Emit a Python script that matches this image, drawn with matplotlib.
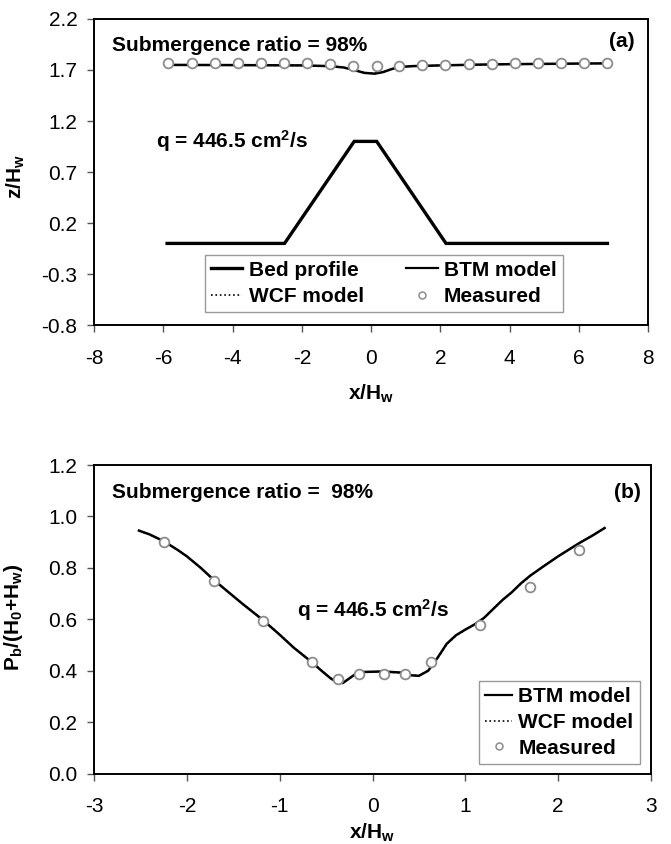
import numpy as np
import matplotlib
matplotlib.use('Agg')
import matplotlib.pyplot as plt
from matplotlib.lines import Line2D

plt.rcParams['font.family'] = ['Liberation Sans', 'DejaVu Sans']
plt.rcParams['mathtext.fontset'] = 'custom'
plt.rcParams['mathtext.rm'] = 'Liberation Sans'
plt.rcParams['mathtext.bf'] = 'Liberation Sans:bold'
plt.rcParams['mathtext.it'] = 'Liberation Sans:italic'
plt.rcParams['axes.unicode_minus'] = False

# (a) water surface and bed profile
bed_x = [-5.89, -2.50, -0.49, 0.16, 2.16, 6.82]
bed_z = [0.0, 0.0, 1.0, 1.0, 0.0, 0.0]

surf_x = [-5.86, -4.0, -2.0, -1.2, -0.8, -0.5, -0.2, 0.1, 0.35, 0.6, 0.85, 1.2, 2.0, 3.0, 4.0, 5.0, 6.0, 6.81]
btm_z = [1.750, 1.748, 1.745, 1.738, 1.725, 1.700, 1.672, 1.664, 1.680, 1.710, 1.730, 1.738, 1.745, 1.752, 1.757, 1.760, 1.763, 1.765]
wcf_z = [1.750, 1.748, 1.745, 1.738, 1.726, 1.702, 1.674, 1.666, 1.681, 1.710, 1.730, 1.738, 1.745, 1.752, 1.757, 1.760, 1.763, 1.765]

meas_x_a = [-5.86, -5.18, -4.50, -3.83, -3.18, -2.52, -1.86, -1.20, -0.51, 0.16,
            0.81, 1.48, 2.14, 2.81, 3.49, 4.14, 4.81, 5.47, 6.14, 6.81]
meas_z_a = [1.772, 1.772, 1.772, 1.771, 1.771, 1.770, 1.768, 1.762, 1.735, 1.740,
            1.740, 1.745, 1.750, 1.755, 1.760, 1.765, 1.768, 1.770, 1.770, 1.771]

# (b) bed pressure
pres_x = [-2.516, -2.4, -2.245, -2.1, -2.0, -1.85, -1.709, -1.55, -1.4, -1.18, -1.0, -0.85,
          -0.65, -0.55, -0.45, -0.38, -0.32, -0.25, -0.18, -0.1, 0.1, 0.3, 0.42, 0.5,
          0.6, 0.7, 0.8, 0.9, 1.0, 1.1, 1.2, 1.3, 1.4, 1.5, 1.6, 1.7, 1.85, 2.0, 2.23, 2.38, 2.5]
btm_p = [0.945, 0.930, 0.903, 0.870, 0.845, 0.800, 0.753, 0.705, 0.660, 0.597, 0.540, 0.490,
         0.432, 0.400, 0.370, 0.355, 0.352, 0.370, 0.388, 0.395, 0.397, 0.393, 0.382, 0.380,
         0.400, 0.450, 0.505, 0.538, 0.560, 0.580, 0.605, 0.640, 0.675, 0.705, 0.740, 0.770,
         0.808, 0.845, 0.897, 0.928, 0.955]
wcf_p = [0.945, 0.929, 0.903, 0.869, 0.845, 0.800, 0.752, 0.705, 0.661, 0.598, 0.541, 0.491,
         0.433, 0.401, 0.371, 0.356, 0.353, 0.369, 0.387, 0.394, 0.396, 0.392, 0.383, 0.381,
         0.401, 0.448, 0.503, 0.537, 0.559, 0.580, 0.605, 0.640, 0.675, 0.705, 0.739, 0.769,
         0.808, 0.845, 0.897, 0.928, 0.955]

meas_x_b = [-2.245, -1.709, -1.18, -0.65, -0.373, -0.142, 0.125, 0.355, 0.632, 1.162, 1.692, 2.226]
meas_p_b = [0.899, 0.750, 0.595, 0.433, 0.368, 0.388, 0.388, 0.388, 0.433, 0.578, 0.724, 0.871]

fig = plt.figure(figsize=(6.71, 8.44), dpi=100)
ax1 = fig.add_axes([0.1401, 0.6149, 0.8261, 0.3626])
ax2 = fig.add_axes([0.1401, 0.0835, 0.8301, 0.3655])

tick_fs = 15
text_fs = 15

def style_axes(ax):
    for s in ax.spines.values():
        s.set_linewidth(1.4)
    ax.tick_params(direction='out', length=5, width=1.0, labelsize=tick_fs, color='#555555',
                   top=False, right=False)
    ax.tick_params(axis='x', pad=12)
    ax.tick_params(axis='y', pad=7)

meas_style = dict(linestyle='none', marker='o', markersize=7, markerfacecolor='white',
                  markeredgecolor='#8c8c8c', markeredgewidth=1.3)

# panel (a)
ax1.plot(bed_x, bed_z, color='black', lw=2.4, solid_joinstyle='miter')
ax1.plot(surf_x, wcf_z, color='black', lw=1.2, linestyle=':')
ax1.plot(surf_x, btm_z, color='black', lw=1.8)
ax1.plot(meas_x_a, meas_z_a, **meas_style)
ax1.set_xlim(-8, 8)
ax1.set_ylim(-0.8, 2.2)
ax1.set_xticks(np.arange(-8, 9, 2))
ax1.set_yticks([-0.8, -0.3, 0.2, 0.7, 1.2, 1.7, 2.2])
ax1.set_yticklabels(['-0.8', '-0.3', '0.2', '0.7', '1.2', '1.7', '2.2'])
style_axes(ax1)
ax1.set_xlabel(r'x/H$_\mathbf{w}$', fontsize=text_fs, fontweight='bold')
ax1.set_ylabel(r'z/H$_\mathbf{w}$', fontsize=text_fs, fontweight='bold')
ax1.xaxis.set_label_coords(0.5, -0.19)
ax1.yaxis.set_label_coords(-0.121, 0.485)
ax1.text(0.033, 0.915, 'Submergence ratio = 98%', transform=ax1.transAxes,
         fontsize=text_fs, fontweight='bold', ha='left', va='center')
ax1.text(0.976, 0.925, '(a)', transform=ax1.transAxes,
         fontsize=text_fs, fontweight='bold', ha='right', va='center')
ax1.text(0.112, 0.60, r'q = 446.5 cm$^\mathbf{2}$/s', transform=ax1.transAxes,
         fontsize=text_fs, fontweight='bold', ha='left', va='center')

h_bed = Line2D([], [], color='black', lw=2.4)
h_btm = Line2D([], [], color='black', lw=1.6)
h_wcf = Line2D([], [], color='black', lw=1.2, linestyle=':')
h_meas = Line2D([], [], linestyle='none', marker='o', markersize=5, markerfacecolor='white',
                markeredgecolor='#8c8c8c', markeredgewidth=1.1)

leg1 = ax1.legend([h_bed, h_wcf, h_btm, h_meas],
                  ['Bed profile', 'WCF model', 'BTM model', 'Measured'],
                  ncol=2, loc='lower left', bbox_to_anchor=(0.200, 0.0415, 0.646, 0.2015),
                  mode='expand', fancybox=False, edgecolor='#999999', framealpha=1,
                  handlelength=1.5, handletextpad=0.3, columnspacing=0.6,
                  borderaxespad=0, borderpad=0.3, labelspacing=0.35,
                  prop={'size': text_fs, 'weight': 'bold'})
leg1.get_frame().set_linewidth(1.0)

# panel (b)
ax2.plot(pres_x, wcf_p, color='black', lw=1.2, linestyle=':')
ax2.plot(pres_x, btm_p, color='black', lw=1.8)
ax2.plot(meas_x_b, meas_p_b, **meas_style)
ax2.set_xlim(-3, 3)
ax2.set_ylim(0, 1.2)
ax2.set_xticks(np.arange(-3, 4, 1))
ax2.set_yticks(np.arange(0, 1.21, 0.2))
ax2.set_yticklabels(['0.0', '0.2', '0.4', '0.6', '0.8', '1.0', '1.2'])
style_axes(ax2)
ax2.set_xlabel(r'x/H$_\mathbf{w}$', fontsize=text_fs, fontweight='bold')
ax2.set_ylabel(r'P$_\mathbf{b}$/(H$_\mathbf{0}$+H$_\mathbf{w}$)', fontsize=text_fs, fontweight='bold')
ax2.xaxis.set_label_coords(0.5, -0.155)
ax2.yaxis.set_label_coords(-0.124, 0.508)
ax2.text(0.033, 0.91, 'Submergence ratio =  98%', transform=ax2.transAxes,
         fontsize=text_fs, fontweight='bold', ha='left', va='center')
ax2.text(0.981, 0.912, '(b)', transform=ax2.transAxes,
         fontsize=text_fs, fontweight='bold', ha='right', va='center')
ax2.text(0.365, 0.53, r'q = 446.5 cm$^\mathbf{2}$/s', transform=ax2.transAxes,
         fontsize=text_fs, fontweight='bold', ha='left', va='center')

leg2 = ax2.legend([h_btm, h_wcf, h_meas], ['BTM model', 'WCF model', 'Measured'],
                  loc='lower right', bbox_to_anchor=(0.980, 0.031),
                  fancybox=False, edgecolor='#999999', framealpha=1,
                  handlelength=1.3, handletextpad=0.3, borderaxespad=0,
                  borderpad=0.3, labelspacing=0.32,
                  prop={'size': text_fs, 'weight': 'bold'})
leg2.get_frame().set_linewidth(1.0)

fig.savefig('out.png', dpi=100)
